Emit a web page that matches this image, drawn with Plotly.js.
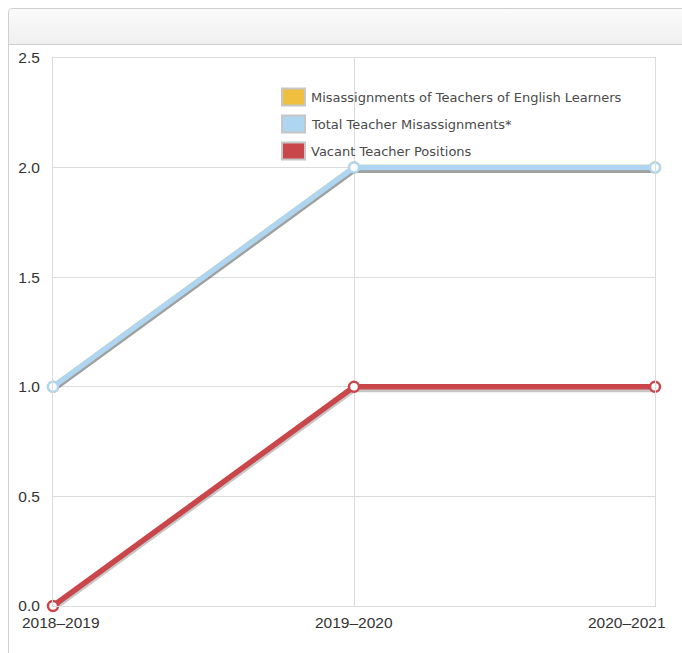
<!DOCTYPE html>
<html>
<head>
<meta charset="utf-8">
<script src="https://cdn.plot.ly/plotly-3.0.1.min.js"></script>
<style>
  html, body { margin: 0; padding: 0; width: 682px; height: 653px; overflow: hidden; background: #fff; }
  #panel { position: absolute; left: 8px; top: 8px; width: 700px; height: 700px; border: 1px solid #cfcfcf; border-radius: 4px; background: #fff; }
  #header { height: 35px; border-bottom: 1px solid #cfcfcf; background: linear-gradient(#fbfbfb, #efefef); border-radius: 4px 4px 0 0; }
  #chart { position: absolute; left: 0; top: 0; width: 682px; height: 653px; }
</style>
</head>
<body>
<div id="panel"><div id="header"></div></div>
<div id="chart"></div>
<script>
// ---- data ----
const years = ["2018–2019", "2019–2020", "2020–2021"];
const seriesNames = ["Misassignments of Teachers of English Learners", "Total Teacher Misassignments*", "Vacant Teacher Positions"];
const elMisassignments = [1, 2, 2];
const totalMisassignments = [1, 2, 2];
const vacantPositions = [0, 1, 1];
const yTicks = [0, 0.5, 1, 1.5, 2, 2.5];
const yTickLabels = ["0.0", "0.5", "1.0", "1.5", "2.0", "2.5"];

// ---- style ----
const colors = ["#efc03f", "#aed6f3", "#c9474a"];
const W = 682, H = 653;
const L = 53, R = 655, T = 58, B = 606;
const px = x => (x - L) / (R - L);
const py = y => (B - y) / (B - T);
const yShift = 3 * 2.5 / (B - T); // 3px shadow offset in data units
const tickFont = { family: "Liberation Sans, Arial, sans-serif", size: 15.5, color: "#333" };

const allSeries = [elMisassignments, totalMisassignments, vacantPositions];
const axisFor = ["y", "y3", "y3"];
const mainTrace = i => ({
  x: years, y: allSeries[i], type: "scatter", mode: "lines+markers", name: seriesNames[i], yaxis: axisFor[i],
  line: { color: colors[i], width: 5.5 },
  marker: { symbol: "circle", size: 10, color: "#ffffff", line: { color: colors[i], width: 2.5 } },
  showlegend: false, cliponaxis: false
});
const traces = [mainTrace(0)];
// shadows (on shifted overlay axis y2)
allSeries.forEach((vals, i) => {
  traces.push({
    x: years, y: vals, type: "scatter", mode: "lines", yaxis: "y2",
    line: { color: "rgba(70,70,70,0.3)", width: 5 },
    hoverinfo: "skip", showlegend: false, cliponaxis: false
  });
});
traces.push(mainTrace(1), mainTrace(2));

const shapes = [];
const annotations = [];
const rowY = [97, 124, 151];
seriesNames.forEach((n, i) => {
  shapes.push({
    type: "rect", xref: "paper", yref: "paper",
    x0: px(282), x1: px(305), y0: py(rowY[i] - 8.5), y1: py(rowY[i] + 8.5),
    fillcolor: colors[i], line: { color: "#c6c6c6", width: 2 }
  });
  annotations.push({
    xref: "paper", yref: "paper", x: px(309), y: py(rowY[i]), xanchor: "left", yanchor: "middle",
    text: n, showarrow: false, font: { family: "DejaVu Sans", size: 13, color: "#4a4a4a" }
  });
});
// x tick labels
const xLabelShift = [8, 0, 13];
const xAnchors = ["center", "center", "right"];
years.forEach((yr, i) => {
  annotations.push({
    xref: "x", yref: "paper", x: yr, y: 0, yanchor: "top", xanchor: xAnchors[i], xshift: xLabelShift[i], yshift: -6,
    text: yr, showarrow: false, font: tickFont
  });
});

const layout = {
  width: W, height: H,
  margin: { l: L, r: W - R, t: T, b: H - B, pad: 0 },
  paper_bgcolor: "rgba(0,0,0,0)", plot_bgcolor: "rgba(0,0,0,0)",
  showlegend: false,
  xaxis: {
    type: "category", range: [0, 2], showticklabels: false, ticks: "",
    showgrid: true, gridcolor: "#dcdcdc", gridwidth: 1, zeroline: false,
    showline: true, linecolor: "#dcdcdc", mirror: true, fixedrange: true
  },
  yaxis: {
    range: [0, 2.5], tickvals: yTicks, ticktext: yTickLabels, ticks: "", ticklabelstandoff: 9,
    showgrid: true, gridcolor: "#dcdcdc", zeroline: false,
    showline: true, linecolor: "#dcdcdc", mirror: true,
    tickfont: tickFont, fixedrange: true
  },
  yaxis2: { overlaying: "y", range: [yShift, 2.5 + yShift], visible: false, fixedrange: true },
  yaxis3: { overlaying: "y", range: [0, 2.5], visible: false, fixedrange: true },
  shapes: shapes,
  annotations: annotations
};

Plotly.newPlot("chart", traces, layout, { displayModeBar: false, staticPlot: true });
</script>
</body>
</html>
